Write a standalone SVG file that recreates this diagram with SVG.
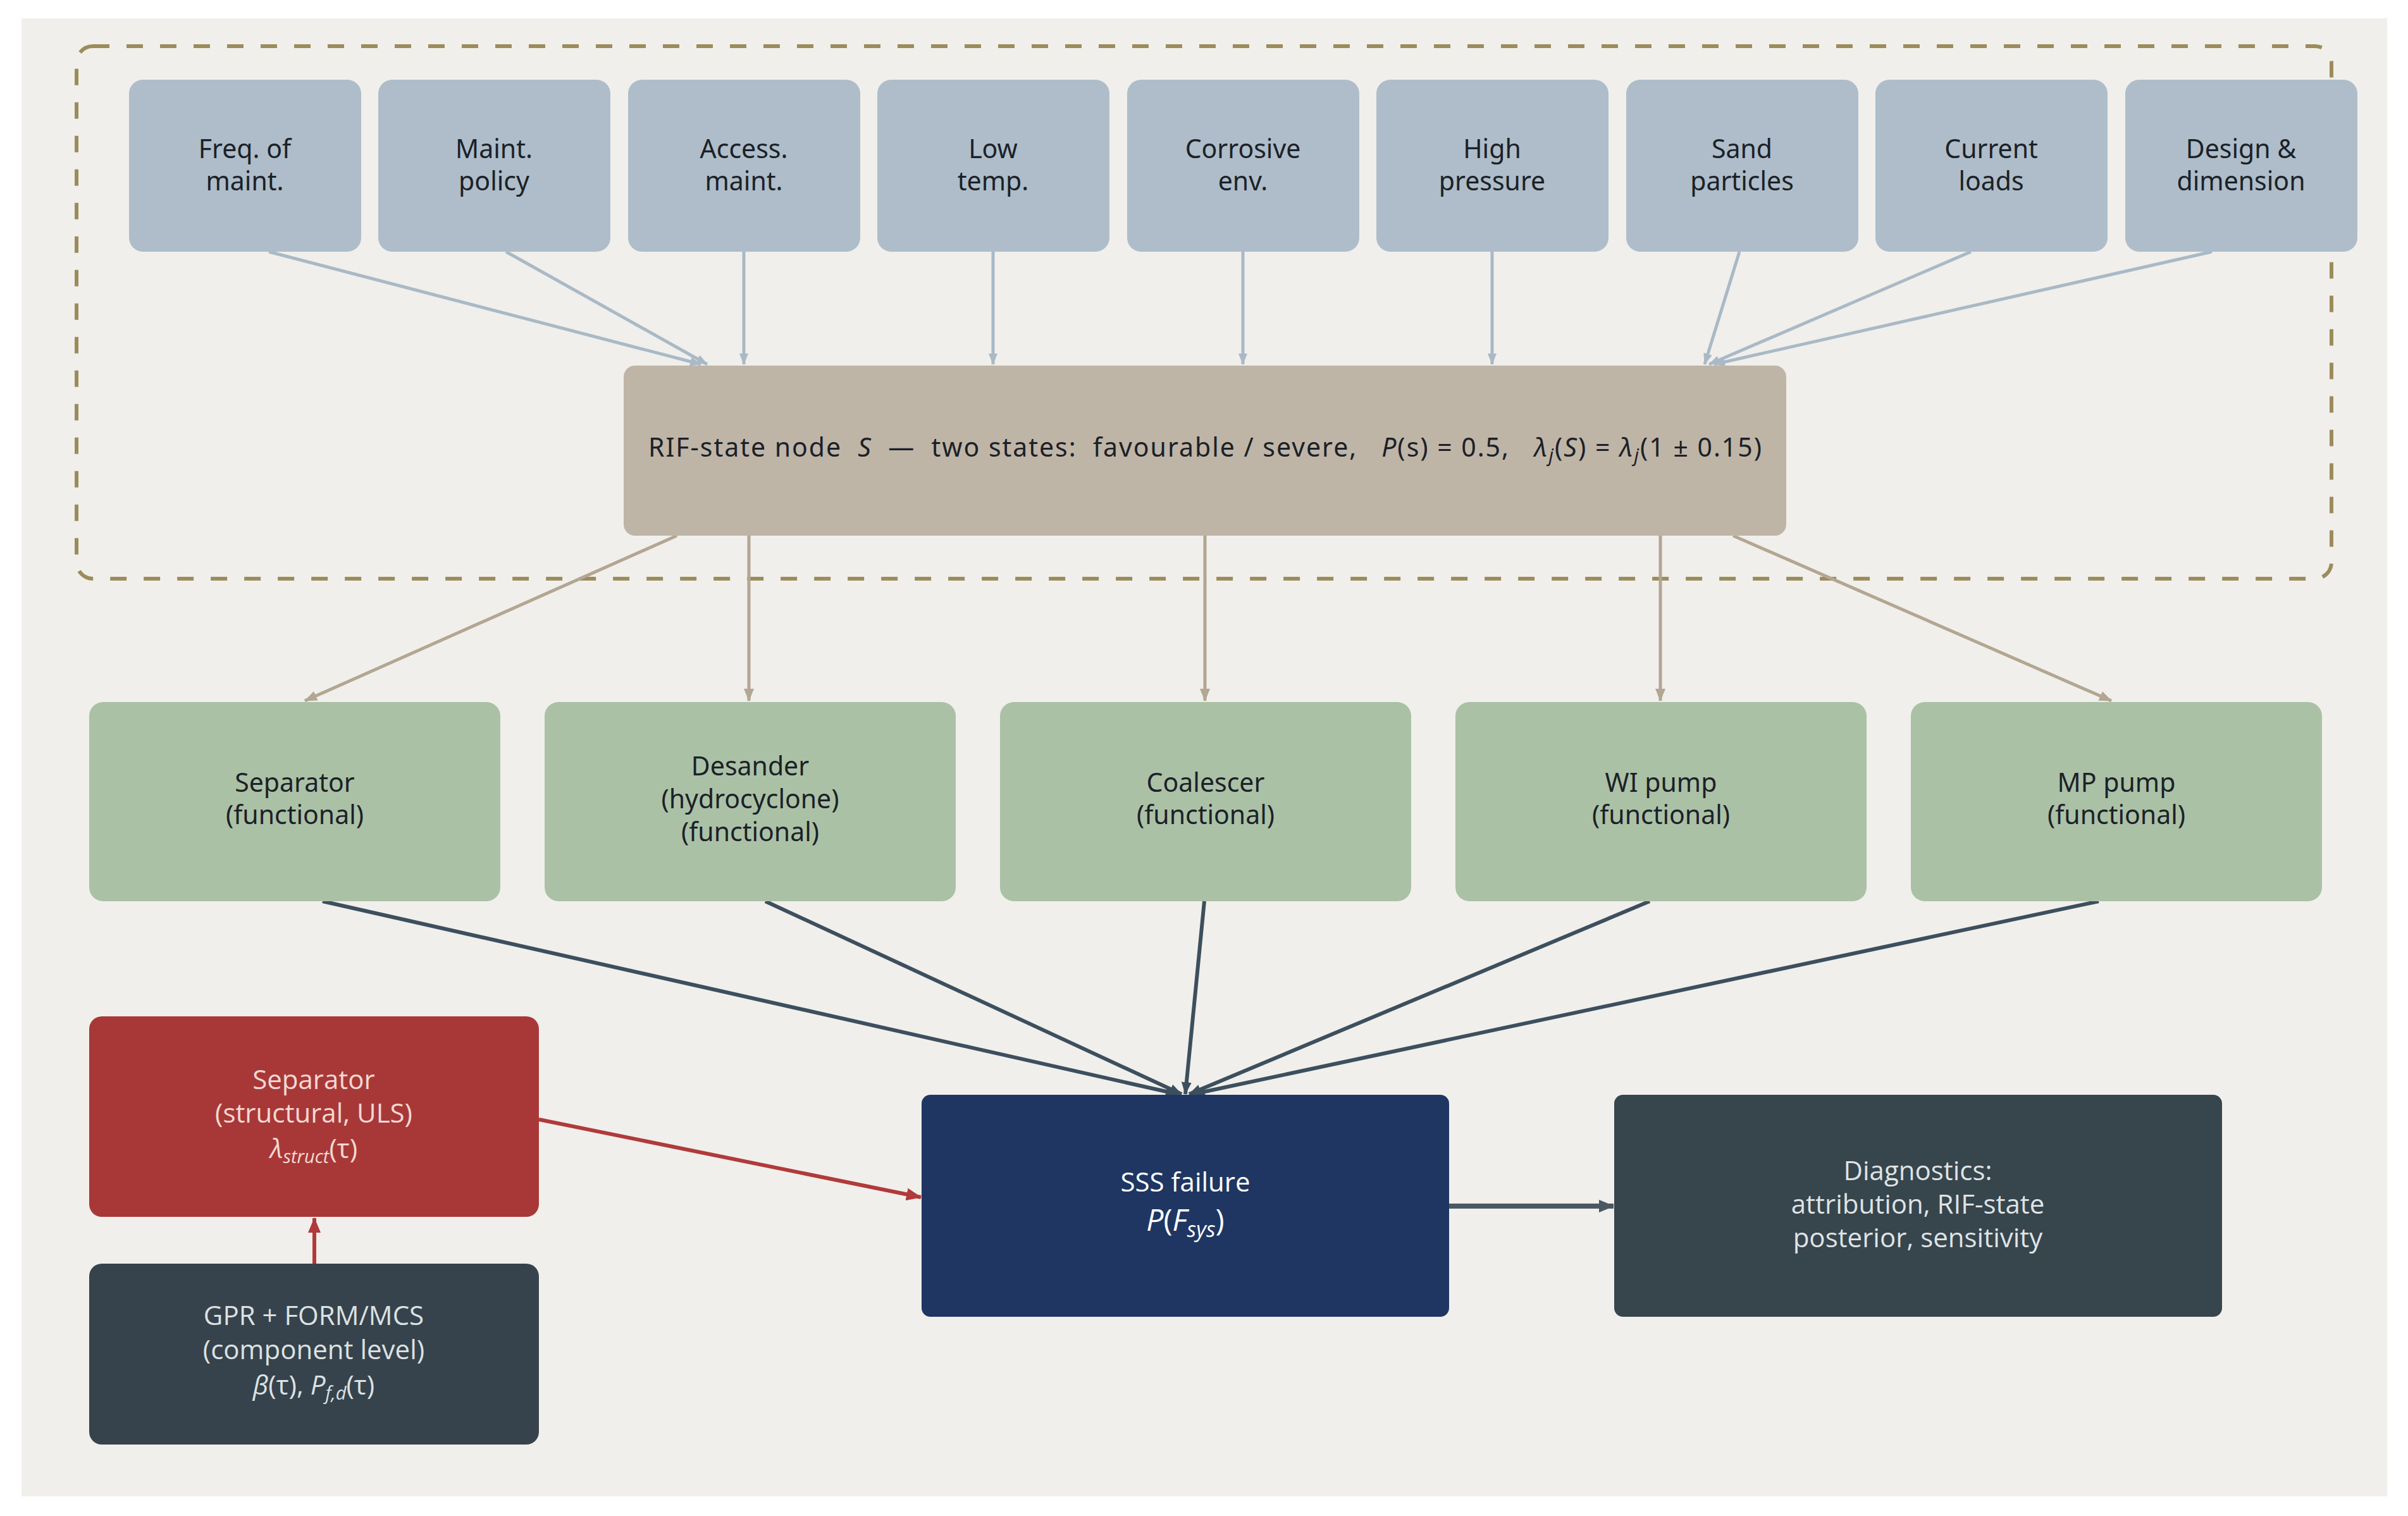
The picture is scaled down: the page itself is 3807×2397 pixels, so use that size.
<svg xmlns="http://www.w3.org/2000/svg" width="3807" height="2397" viewBox="0 0 3807 2397">
<defs>
<style>
.t{font-family:"Noto Sans","Open Sans","DejaVu Sans",sans-serif;font-size:41px;fill:#1b2128;text-anchor:middle}
.w{font-family:"Open Sans","Noto Sans","DejaVu Sans",sans-serif;font-size:42px;text-anchor:middle}
.rif{fill:#aebdc9}
.grn{fill:#abc1a6}
.cb{stroke:#a9b9c6;stroke-width:5;fill:none;marker-end:url(#mb)}
.ct{stroke:#b3a692;stroke-width:5;fill:none;marker-end:url(#mt)}
.cd{stroke:#3d4f5e;stroke-width:6;fill:none;marker-end:url(#md)}
.cr{stroke:#b13a3a;stroke-width:6;fill:none;marker-end:url(#mr)}
</style>
<marker id="mb" markerUnits="userSpaceOnUse" markerWidth="18" markerHeight="14" refX="17" refY="7" orient="auto"><path d="M0,0 L18,7 L0,14 z" fill="#a9b9c6"/></marker>
<marker id="mt" markerUnits="userSpaceOnUse" markerWidth="20" markerHeight="16" refX="19" refY="8" orient="auto"><path d="M0,0 L20,8 L0,16 z" fill="#b3a692"/></marker>
<marker id="md" markerUnits="userSpaceOnUse" markerWidth="20" markerHeight="16" refX="19" refY="8" orient="auto"><path d="M0,0 L20,8 L0,16 z" fill="#3d4f5e"/></marker>
<marker id="mr" markerUnits="userSpaceOnUse" markerWidth="24" markerHeight="20" refX="23" refY="10" orient="auto"><path d="M0,0 L24,10 L0,20 z" fill="#b13a3a"/></marker>
<marker id="mg" markerUnits="userSpaceOnUse" markerWidth="24" markerHeight="20" refX="23" refY="10" orient="auto"><path d="M0,0 L24,10 L0,20 z" fill="#4a5961"/></marker>
</defs>
<rect x="0" y="0" width="3807" height="2397" fill="#ffffff"/>
<rect x="34" y="29" width="3740" height="2337" fill="#f0efeb"/>
<rect id="rif-group" x="121" y="73" width="3565" height="842" rx="26" fill="none" stroke="#9c8c5c" stroke-width="6" stroke-dasharray="26 27"/>

<g id="connectors">
<line class="cb" x1="425" y1="398" x2="1108" y2="576"/>
<line class="cb" x1="800" y1="398" x2="1118" y2="576"/>
<line class="cb" x1="1176" y1="398" x2="1176" y2="576"/>
<line class="cb" x1="1570" y1="398" x2="1570" y2="576"/>
<line class="cb" x1="1965" y1="398" x2="1965" y2="576"/>
<line class="cb" x1="2359" y1="398" x2="2359" y2="576"/>
<line class="cb" x1="2750" y1="398" x2="2695" y2="576"/>
<line class="cb" x1="3116" y1="398" x2="2702" y2="576"/>
<line class="cb" x1="3497" y1="398" x2="2710" y2="576"/>

<line class="ct" x1="1070" y1="847" x2="482" y2="1108"/>
<line class="ct" x1="1184" y1="847" x2="1184" y2="1108"/>
<line class="ct" x1="1905" y1="847" x2="1905" y2="1108"/>
<line class="ct" x1="2625" y1="847" x2="2625" y2="1108"/>
<line class="ct" x1="2740" y1="847" x2="3338" y2="1108"/>

<line class="cd" x1="510" y1="1425" x2="1862" y2="1730"/>
<line class="cd" x1="1210" y1="1425" x2="1868" y2="1730"/>
<line class="cd" x1="1904" y1="1425" x2="1874" y2="1730"/>
<line class="cd" x1="2608" y1="1425" x2="1880" y2="1730"/>
<line class="cd" x1="3318" y1="1425" x2="1886" y2="1730"/>

<line class="cr" x1="852" y1="1770" x2="1456" y2="1893"/>
<line class="cr" x1="497" y1="1998" x2="497" y2="1926"/>
<line x1="2291" y1="1907" x2="2551" y2="1907" stroke="#4a5961" stroke-width="8" marker-end="url(#mg)"/>
</g>

<g id="rif1"><rect class="rif" x="204" y="126" width="367" height="272" rx="22"/><text class="t" x="387" y="250">Freq. of<tspan x="387" dy="51">maint.</tspan></text></g>
<g id="rif2"><rect class="rif" x="598" y="126" width="367" height="272" rx="22"/><text class="t" x="781" y="250">Maint.<tspan x="781" dy="51">policy</tspan></text></g>
<g id="rif3"><rect class="rif" x="993" y="126" width="367" height="272" rx="22"/><text class="t" x="1176" y="250">Access.<tspan x="1176" dy="51">maint.</tspan></text></g>
<g id="rif4"><rect class="rif" x="1387" y="126" width="367" height="272" rx="22"/><text class="t" x="1570" y="250">Low<tspan x="1570" dy="51">temp.</tspan></text></g>
<g id="rif5"><rect class="rif" x="1782" y="126" width="367" height="272" rx="22"/><text class="t" x="1965" y="250">Corrosive<tspan x="1965" dy="51">env.</tspan></text></g>
<g id="rif6"><rect class="rif" x="2176" y="126" width="367" height="272" rx="22"/><text class="t" x="2359" y="250">High<tspan x="2359" dy="51">pressure</tspan></text></g>
<g id="rif7"><rect class="rif" x="2571" y="126" width="367" height="272" rx="22"/><text class="t" x="2754" y="250">Sand<tspan x="2754" dy="51">particles</tspan></text></g>
<g id="rif8"><rect class="rif" x="2965" y="126" width="367" height="272" rx="22"/><text class="t" x="3148" y="250">Current<tspan x="3148" dy="51">loads</tspan></text></g>
<g id="rif9"><rect class="rif" x="3360" y="126" width="367" height="272" rx="22"/><text class="t" x="3543" y="250">Design &amp;<tspan x="3543" dy="51">dimension</tspan></text></g>

<g id="rif-state"><rect x="986" y="578" width="1838" height="269" rx="18" fill="#bfb5a7"/>
<text class="t" x="1905" y="722" font-size="43" textLength="1760" lengthAdjust="spacing" xml:space="preserve">RIF-state node  <tspan font-style="italic">S</tspan>  —  two states:  favourable / severe,   <tspan font-style="italic">P</tspan>(s) = 0.5,   <tspan font-style="italic">λ<tspan font-size="29" dy="8">j</tspan></tspan><tspan dy="-8">(</tspan><tspan font-style="italic">S</tspan>) = <tspan font-style="italic">λ<tspan font-size="29" dy="8">j</tspan></tspan><tspan dy="-8">(1 ± 0.15)</tspan></text></g>

<g id="sep-f"><rect class="grn" x="141" y="1110" width="650" height="315" rx="22"/><text class="t" x="466" y="1252">Separator<tspan x="466" dy="51">(functional)</tspan></text></g>
<g id="desander"><rect class="grn" x="861" y="1110" width="650" height="315" rx="22"/><text class="t" x="1186" y="1226">Desander<tspan x="1186" dy="52">(hydrocyclone)</tspan><tspan x="1186" dy="52">(functional)</tspan></text></g>
<g id="coalescer"><rect class="grn" x="1581" y="1110" width="650" height="315" rx="22"/><text class="t" x="1906" y="1252">Coalescer<tspan x="1906" dy="51">(functional)</tspan></text></g>
<g id="wi-pump"><rect class="grn" x="2301" y="1110" width="650" height="315" rx="22"/><text class="t" x="2626" y="1252">WI pump<tspan x="2626" dy="51">(functional)</tspan></text></g>
<g id="mp-pump"><rect class="grn" x="3021" y="1110" width="650" height="315" rx="22"/><text class="t" x="3346" y="1252">MP pump<tspan x="3346" dy="51">(functional)</tspan></text></g>

<g id="sep-s"><rect x="141" y="1607" width="711" height="317" rx="20" fill="#a83838"/>
<text class="w" x="496" y="1722" fill="#f4d9d2">Separator<tspan x="496" dy="53">(structural, ULS)</tspan><tspan x="496" dy="56" font-style="italic">λ<tspan font-size="29" dy="8">struct</tspan></tspan><tspan dy="-8">(τ)</tspan></text></g>

<g id="gpr"><rect x="141" y="1998" width="711" height="286" rx="20" fill="#36434c"/>
<text class="w" x="496" y="2095" fill="#dde1e3">GPR + FORM/MCS<tspan x="496" dy="54">(component level)</tspan><tspan x="496" dy="56" font-style="italic">β</tspan><tspan>(τ),  </tspan><tspan font-style="italic">P<tspan font-size="29" dy="8">f,d</tspan></tspan><tspan dy="-8">(τ)</tspan></text></g>

<g id="sss"><rect x="1457" y="1731" width="834" height="351" rx="14" fill="#1f3662"/>
<text class="w" x="1874" y="1884" fill="#ffffff" font-size="54">SSS failure<tspan x="1874" dy="62" font-style="italic" font-size="48">P</tspan><tspan font-size="48">(</tspan><tspan font-style="italic" font-size="48">F<tspan font-size="34" dy="10">sys</tspan></tspan><tspan dy="-10" font-size="48">)</tspan></text></g>

<g id="diag"><rect x="2552" y="1731" width="961" height="351" rx="14" fill="#37454d"/>
<text class="w" x="3032" y="1866" fill="#dfe3e5">Diagnostics:<tspan x="3032" dy="53">attribution, RIF-state</tspan><tspan x="3032" dy="53">posterior, sensitivity</tspan></text></g>
</svg>
